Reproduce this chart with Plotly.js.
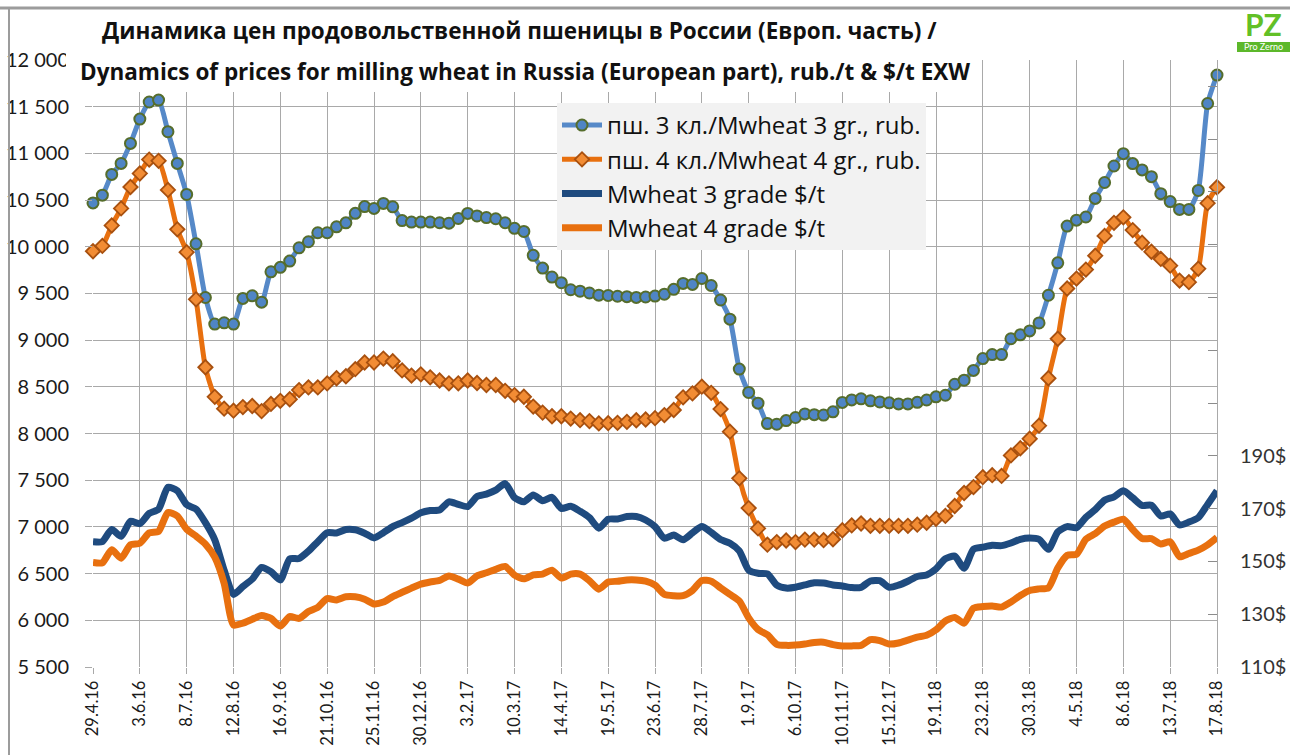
<!DOCTYPE html>
<html><head><meta charset="utf-8">
<script src="https://cdn.plot.ly/plotly-3.0.1.min.js"></script>
<style>html,body{margin:0;padding:0;background:#fff}#chart{width:1290px;height:755px}</style>
</head><body><div id="chart"></div>
<script>
const dates = ['29.4.16','6.5.16','13.5.16','20.5.16','27.5.16','3.6.16','10.6.16','17.6.16','24.6.16','1.7.16','8.7.16','15.7.16','22.7.16','29.7.16','5.8.16','12.8.16','19.8.16','26.8.16','2.9.16','9.9.16','16.9.16','23.9.16','30.9.16','7.10.16','14.10.16','21.10.16','28.10.16','4.11.16','11.11.16','18.11.16','25.11.16','2.12.16','9.12.16','16.12.16','23.12.16','30.12.16',
'6.1.17','13.1.17','20.1.17','27.1.17','3.2.17','10.2.17','17.2.17','24.2.17','3.3.17','10.3.17','17.3.17','24.3.17','31.3.17','7.4.17','14.4.17','21.4.17','28.4.17','5.5.17','12.5.17','19.5.17','26.5.17','2.6.17','9.6.17','16.6.17','23.6.17','30.6.17','7.7.17','14.7.17','21.7.17','28.7.17','4.8.17','11.8.17','18.8.17','25.8.17','1.9.17','8.9.17','15.9.17','22.9.17','29.9.17','6.10.17','13.10.17','20.10.17','27.10.17','3.11.17','10.11.17','17.11.17','24.11.17','1.12.17','8.12.17','15.12.17','22.12.17','29.12.17',
'5.1.18','12.1.18','19.1.18','26.1.18','2.2.18','9.2.18','16.2.18','23.2.18','2.3.18','9.3.18','16.3.18','23.3.18','30.3.18','6.4.18','13.4.18','20.4.18','27.4.18','4.5.18','11.5.18','18.5.18','25.5.18','1.6.18','8.6.18','15.6.18','22.6.18','29.6.18','6.7.18','13.7.18','20.7.18','27.7.18','3.8.18','10.8.18','17.8.18'];

const tickDates = ['29.4.16','3.6.16','8.7.16','12.8.16','16.9.16','21.10.16','25.11.16','30.12.16','3.2.17','10.3.17','14.4.17','19.5.17','23.6.17','28.7.17','1.9.17','6.10.17','10.11.17','15.12.17','19.1.18','23.2.18','30.3.18','4.5.18','8.6.18','13.7.18','17.8.18'];

const rub3 = [10470,10553,10775,10893,11107,11367,11550,11571,11232,10893,
10560,10032,9457,9172,9186,9172,9447,9475,9407,9732,
9780,9847,9989,10054,10150,10150,10214,10256,10358,10430,
10411,10464,10428,10280,10264,10264,10264,10257,10253,10303,
10357,10330,10313,10300,10257,10198,10164,9908,9772,9676,
9615,9540,9524,9505,9482,9478,9470,9466,9458,9462,
9472,9492,9544,9608,9597,9660,9585,9430,9225,8690,
8440,8325,8107,8100,8139,8172,8210,8202,8198,8233,
8333,8360,8372,8350,8338,8329,8317,8317,8334,8359,
8393,8410,8528,8571,8676,8803,8846,8846,9015,9057,
9099,9184,9481,9828,10222,10285,10319,10518,10688,10865,
10997,10891,10823,10751,10569,10484,10400,10400,10603,11534,
11839];

const rub4 = [9952,10009,10228,10411,10640,10785,10934,10920,10609,10187,
9942,9437,8710,8393,8266,8245,8283,8295,8240,8317,
8350,8367,8465,8494,8494,8537,8592,8613,8689,8761,
8761,8803,8774,8676,8621,8634,8602,8568,8538,8538,
8568,8541,8520,8520,8457,8412,8394,8289,8224,8185,
8185,8160,8143,8133,8108,8111,8115,8125,8142,8150,
8165,8198,8252,8388,8430,8502,8436,8262,8020,7520,
7202,6984,6810,6838,6855,6838,6864,6864,6858,6868,
6964,7016,7037,7012,7012,7012,7012,7012,7024,7045,
7088,7118,7224,7363,7427,7533,7554,7546,7766,7842,
7944,8084,8592,9015,9553,9659,9756,9904,10116,10256,
10315,10179,10044,9947,9870,9798,9638,9621,9765,10467,
10637];

const usd3 = [157.5,157.5,162.1,159.5,165.2,164.3,168.2,169.8,178.1,176.8,
171.5,169.8,164.7,158.2,146.7,137.5,140.5,143.3,147.7,146.1,
143.0,151.0,151.1,153.9,157.5,160.9,160.8,162.1,162.0,160.7,
158.9,160.9,163.2,164.7,166.4,168.4,169.3,169.5,172.6,171.6,
170.8,174.6,175.5,177.0,179.5,174.2,172.6,175.2,173.0,174.3,
170.1,170.9,169.0,166.6,162.6,166.0,166.1,167.0,167.0,165.7,
163.2,158.8,160.0,158.2,160.8,163.2,161.0,158.3,156.9,154.0,
146.7,145.5,145.3,141.0,139.9,140.2,141.1,141.9,141.8,141.1,
140.7,140.1,140.2,142.6,142.7,140.2,141.0,142.5,144.3,144.9,
147.2,151.0,152.0,147.4,154.6,155.4,156.1,156.0,157.0,158.4,
158.9,158.4,154.6,161.2,163.2,162.8,166.7,169.6,173.2,174.5,
176.8,174.1,171.2,171.3,167.2,168.0,163.8,164.9,166.6,171.6,
176.8];

const usd4 = [149.6,149.5,154.4,151.2,156.3,156.9,160.8,161.4,168.5,167.2,
162.2,159.6,156.6,151.6,141.7,125.9,126.6,128.1,129.5,128.4,
125.5,129.1,128.4,131.0,132.6,135.9,135.4,136.6,136.6,135.7,
133.9,134.6,136.7,138.3,139.9,141.4,142.2,142.8,144.5,143.3,
141.8,144.5,145.7,147.0,148.1,144.8,143.4,144.9,145.2,146.7,
143.7,145.2,145.2,142.7,139.5,142.2,142.5,143.0,143.0,142.5,
141.0,137.5,137.0,137.0,139.0,142.8,142.5,140.0,137.5,135.0,
128.6,124.2,122.2,118.6,118.2,118.3,118.7,119.3,119.4,118.5,
118.0,118.0,118.2,120.4,120.0,118.7,119.1,120.2,121.3,122.0,
124.1,127.4,128.8,126.6,132.3,132.9,133.1,132.7,134.6,137.1,
139.0,139.6,140.0,147.5,152.3,152.7,158.4,160.5,163.4,164.9,
166.0,162.1,158.7,158.6,156.6,157.5,151.8,153.0,154.3,156.3,
159.1];

const usdTickVals = [110,130,150,170,190,210,230,250,270,290,310,330];
const usdTickText = ['110$','130$','150$','170$','190$','','','','','','',''];

const seriesNames = ['пш. 3 кл./Mwheat 3 gr., rub.','пш. 4 кл./Mwheat 4 gr., rub.','Mwheat 3 grade $/t','Mwheat 4 grade $/t'];
const titleLine1 = 'Динамика цен продовольственной пшеницы в России (Европ. часть) /';
const titleLine2 = 'Dynamics of prices for milling wheat in Russia (European part), rub./t & $/t EXW';

// plot area geometry (pixels)
const PL = 93, PR = 1217, PT = 60, PB = 667;
const px = v => (v - PL) / (PR - PL);
const py = v => (PB - v) / (PB - PT);

const traces = [
  {x: dates, y: rub3, name: seriesNames[0], type: 'scatter', mode: 'lines+markers', legendgroup: 'a', cliponaxis: false,
   line: {color: '#5689c8', width: 5, shape: 'spline', smoothing: 0.6},
   marker: {symbol: 'circle', size: 11, color: '#4f85c5', line: {color: '#566d2c', width: 2}}},
  {x: dates, y: rub4, name: seriesNames[1], type: 'scatter', mode: 'lines+markers', legendgroup: 'b', cliponaxis: false,
   line: {color: '#e8700f', width: 5, shape: 'spline', smoothing: 0.6},
   marker: {symbol: 'diamond', size: 11, color: '#f28c34', line: {color: '#a8500f', width: 1.8}}},
  {x: dates, y: usd3, name: seriesNames[2], type: 'scatter', mode: 'lines', yaxis: 'y2', legendgroup: 'c', cliponaxis: false,
   line: {color: '#1f4b7f', width: 7, shape: 'spline', smoothing: 0.6}},
  {x: dates, y: usd4, name: seriesNames[3], type: 'scatter', mode: 'lines', yaxis: 'y2', legendgroup: 'd', cliponaxis: false,
   line: {color: '#e8700f', width: 7, shape: 'spline', smoothing: 0.6}}
];

const gridC = '#a9a9a9';
const layout = {
  width: 1290, height: 755,
  margin: {l: PL, r: 1290 - PR, t: PT, b: 755 - PB, pad: 0},
  paper_bgcolor: '#ffffff', plot_bgcolor: '#ffffff',
  separators: '. ',
  font: {family: 'Lato, "Open Sans", sans-serif', color: '#1a1a1a'},
  showlegend: true,
  legend: {x: px(557), y: py(103), xanchor: 'left', yanchor: 'top', bgcolor: '#f2f2f2',
           borderwidth: 0, font: {family: '"Open Sans", sans-serif', size: 24, color: '#111'},
           tracegroupgap: 0, itemwidth: 40},
  xaxis: {type: 'category', categoryorder: 'array', categoryarray: dates, range: [0, 120],
          tickmode: 'array', tickvals: tickDates, ticktext: tickDates, tickangle: -90,
          tickfont: {size: 16.5, color: '#1a1a1a'}, showgrid: true, gridcolor: gridC, gridwidth: 1,
          ticks: 'outside', ticklen: 6, tickcolor: gridC, showline: false, zeroline: false},
  yaxis: {range: [5500, 12000], tick0: 5500, dtick: 500, tickformat: ',d',
          tickfont: {size: 20, color: '#1a1a1a'}, showgrid: true, gridcolor: gridC, gridwidth: 1,
          ticks: 'outside', ticklen: 7, tickcolor: gridC, showline: false, zeroline: false,
          ticklabelstandoff: 12},
  yaxis2: {overlaying: 'y', side: 'right', range: [110, 340], tickmode: 'array',
           tickvals: usdTickVals, ticktext: usdTickText, tickfont: {size: 20, color: '#333'},
           ticks: 'inside', ticklen: 9, tickcolor: '#8c8c8c', showline: true, linecolor: gridC,
           showgrid: false, zeroline: false, ticklabelstandoff: 18},
  shapes: [
    {type: 'rect', xref: 'paper', yref: 'paper', x0: px(66), x1: px(978), y0: py(92), y1: py(40),
     fillcolor: '#ffffff', line: {width: 0}, layer: 'above'},
    {type: 'line', xref: 'paper', yref: 'paper', x0: px(0), x1: px(1290), y0: py(8), y1: py(8),
     line: {color: '#9c9c9c', width: 3}},
    {type: 'line', xref: 'paper', yref: 'paper', x0: px(9), x1: px(9), y0: py(8), y1: py(755),
     line: {color: '#9c9c9c', width: 2}},
    {type: 'rect', xref: 'paper', yref: 'paper', x0: px(1237), x1: px(1290), y0: py(52), y1: py(42),
     fillcolor: '#5cb82a', line: {width: 0}}
  ],
  annotations: [
    {text: '<b>' + titleLine1 + '</b>', xref: 'paper', yref: 'paper', x: px(519), y: py(31),
     xanchor: 'center', yanchor: 'middle', showarrow: false,
     font: {family: '"Open Sans", sans-serif', size: 22.5, color: '#111'}},
    {text: '<b>' + titleLine2 + '</b>', xref: 'paper', yref: 'paper', x: px(525), y: py(71),
     xanchor: 'center', yanchor: 'middle', showarrow: false,
     font: {family: '"Open Sans", sans-serif', size: 22.5, color: '#111'}},
    {text: '<b>PZ</b>', xref: 'paper', yref: 'paper', x: px(1263), y: py(24),
     xanchor: 'center', yanchor: 'middle', showarrow: false, font: {size: 30, color: '#62c026'}},
    {text: 'Pro Zerno', xref: 'paper', yref: 'paper', x: px(1263), y: py(47),
     xanchor: 'center', yanchor: 'middle', showarrow: false, font: {size: 9, color: '#ffffff'}}
  ]
};

Plotly.newPlot('chart', traces, layout, {displayModeBar: false, staticPlot: true});
</script>
</body></html>
